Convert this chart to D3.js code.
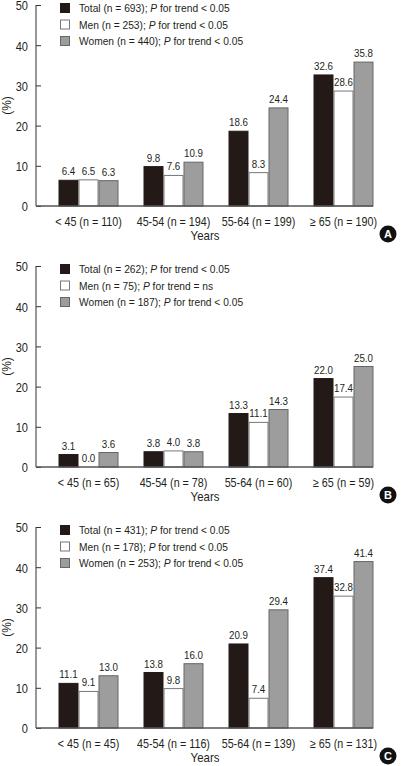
<!DOCTYPE html>
<html><head><meta charset="utf-8">
<script src="https://cdn.jsdelivr.net/npm/d3@7"></script>
<style>
body{margin:0;background:#fff;}
svg text{font-family:"Liberation Sans",Arial,sans-serif;fill:#231f20;}
</style></head><body>
<svg id="c" width="401" height="766"></svg>
<script>
const yTicks = [0, 10, 20, 30, 40, 50];
const seriesNames = ["Total", "Men", "Women"];

const catsA = ["< 45 (n = 110)", "45-54 (n = 194)", "55-64 (n = 199)", "\u2265 65 (n = 190)"];
const totalA = [6.4, 9.8, 18.6, 32.6];
const menA = [6.5, 7.6, 8.3, 28.6];
const womenA = [6.3, 10.9, 24.4, 35.8];
const legendA = [["Total (n = 693); ", "< 0.05"], ["Men (n = 253); ", "< 0.05"], ["Women (n = 440); ", "< 0.05"]];

const catsB = ["< 45 (n = 65)", "45-54 (n = 78)", "55-64 (n = 60)", "\u2265 65 (n = 59)"];
const totalB = [3.1, 3.8, 13.3, 22.0];
const menB = [0.0, 4.0, 11.1, 17.4];
const womenB = [3.6, 3.8, 14.3, 25.0];
const legendB = [["Total (n = 262); ", "< 0.05"], ["Men (n = 75); ", "= ns"], ["Women (n = 187); ", "< 0.05"]];

const catsC = ["< 45 (n = 45)", "45-54 (n = 116)", "55-64 (n = 139)", "\u2265 65 (n = 131)"];
const totalC = [11.1, 13.8, 20.9, 37.4];
const menC = [9.1, 9.8, 7.4, 32.8];
const womenC = [13.0, 16.0, 29.4, 41.4];
const legendC = [["Total (n = 431); ", "< 0.05"], ["Men (n = 178); ", "< 0.05"], ["Women (n = 253); ", "< 0.05"]];

const fills = {Total: "#231a18", Men: "#ffffff", Women: "#9d9d9d"};
const strokes = {Total: "#231a18", Men: "#777", Women: "#666"};

const svg = d3.select("#c");

// text placed at (x,y) and horizontally condensed by k to mimic a narrow typeface
function ctext(parent, x, y, k) {
  return parent.append("text").attr("transform", `translate(${x},${y}) scale(${k},1)`);
}

function panel(y0, cats, tot, men, wom, legend, letter) {
  const g = svg.append("g");
  const y = d3.scaleLinear().domain([0, 50]).range([y0, y0 - 201]);
  const x = d3.scaleBand().domain(cats).range([46, 386]);
  const xi = d3.scaleBand().domain(seriesNames).range([0, 60]);
  const off = (x.bandwidth() - 60) / 2;
  const series = {Total: tot, Men: men, Women: wom};

  // y axis
  const yAxis = d3.axisRight(y).tickValues(yTicks).tickSize(5).tickFormat(() => "");
  const ya = g.append("g").attr("transform", "translate(36,0)").call(yAxis);
  ya.select(".domain").attr("stroke", "#333").attr("d", `M0,${y(0)}V${y(50)}`);
  ya.selectAll(".tick line").attr("stroke", "#333");
  yTicks.forEach(t => {
    ctext(g, 28, y(t) + 1, 0.92).attr("dy", "0.36em")
      .attr("text-anchor", "end").attr("font-size", 12).text(t);
  });
  g.append("text").attr("transform", `translate(11,${y(25)}) rotate(-90)`)
    .attr("text-anchor", "middle").attr("font-size", 12).text("(%)");

  // bars
  seriesNames.forEach(s => {
    g.selectAll(".bar" + s).data(series[s]).join("rect")
      .attr("x", (d, i) => x(cats[i]) + off + xi(s) + 0.5)
      .attr("y", d => y(d))
      .attr("width", xi.bandwidth() - 1)
      .attr("height", d => y(0) - y(d))
      .attr("fill", fills[s]).attr("stroke", strokes[s]).attr("stroke-width", 1);
    series[s].forEach((d, i) => {
      ctext(g, x(cats[i]) + off + xi(s) + xi.bandwidth() / 2, y(d) - 5, 0.85)
        .attr("text-anchor", "middle").attr("font-size", 11.5).text(d.toFixed(1));
    });
  });

  // x axis
  g.append("line").attr("x1", 36).attr("x2", 373).attr("y1", y(0)).attr("y2", y(0))
    .attr("stroke", "#555").attr("stroke-width", 1.5);
  cats.forEach(c => {
    ctext(g, x(c) + x.bandwidth() / 2, y(0) + 20, 0.86)
      .attr("text-anchor", "middle").attr("font-size", 12.5).text(c);
  });
  ctext(g, 205, y(0) + 34, 0.88)
    .attr("text-anchor", "middle").attr("font-size", 13).text("Years");

  // legend
  legend.forEach((l, i) => {
    const ly = y(50) + 3 + i * 16.5;
    g.append("rect").attr("x", 60.5).attr("y", ly - 4.5).attr("width", 9).attr("height", 9)
      .attr("fill", fills[seriesNames[i]]).attr("stroke", strokes[seriesNames[i]]);
    const t = ctext(g, 79, ly, 0.89).attr("dy", "0.36em").attr("font-size", 11.5);
    t.append("tspan").text(l[0]);
    t.append("tspan").attr("font-style", "italic").text("P");
    t.append("tspan").text(" for trend " + l[1]);
  });

  // panel letter
  g.append("circle").attr("cx", 388).attr("cy", y(0) + 28).attr("r", 8.5).attr("fill", "#111");
  g.append("text").attr("x", 388).attr("y", y(0) + 28).attr("dy", "0.36em")
    .attr("text-anchor", "middle").attr("font-size", 11).attr("font-weight", "bold")
    .style("fill", "#fff").text(letter);
}

panel(206, catsA, totalA, menA, womenA, legendA, "A");
panel(467, catsB, totalB, menB, womenB, legendB, "B");
panel(728, catsC, totalC, menC, womenC, legendC, "C");
</script></body></html>
